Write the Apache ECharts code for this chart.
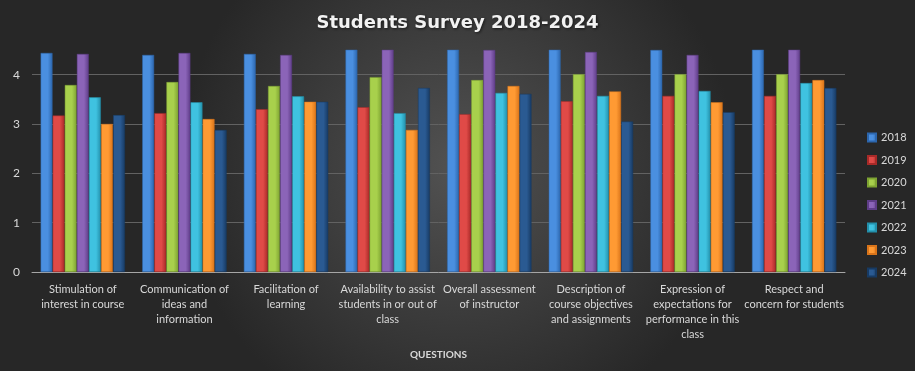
<!DOCTYPE html>
<html><head><meta charset="utf-8">
<script src="https://cdn.jsdelivr.net/npm/echarts@6/dist/echarts.min.js"></script>
<style>html,body{margin:0;padding:0;background:#333;}#c{width:915px;height:371px;}</style>
</head><body><div id="c"></div>
<script>
const categories = [
  "Stimulation of\ninterest in course",
  "Communication of\nideas and\ninformation",
  "Facilitation of\nlearning",
  "Availability to assist\nstudents in or out of\nclass",
  "Overall assessment\nof instructor",
  "Description of\ncourse objectives\nand assignments",
  "Expression of\nexpectations for\nperformance in this\nclass",
  "Respect and\nconcern for students"
];
const years = ["2018","2019","2020","2021","2022","2023","2024"];
const s2018 = [4.44, 4.40, 4.42, 4.60, 4.60, 4.60, 4.50, 4.60];
const s2019 = [3.17, 3.22, 3.30, 3.34, 3.20, 3.46, 3.57, 3.57];
const s2020 = [3.79, 3.85, 3.77, 3.95, 3.89, 4.01, 4.01, 4.01];
const s2021 = [4.42, 4.44, 4.40, 4.60, 4.50, 4.46, 4.40, 4.60];
const s2022 = [3.54, 3.44, 3.56, 3.22, 3.63, 3.57, 3.67, 3.83];
const s2023 = [3.00, 3.10, 3.45, 2.88, 3.77, 3.66, 3.44, 3.89];
const s2024 = [3.18, 2.88, 3.45, 3.73, 3.61, 3.05, 3.24, 3.73];
const seriesValues = [s2018, s2019, s2020, s2021, s2022, s2023, s2024];
const yTicks = [0, 1, 2, 3, 4];

const colors = [
  ["#4a8fe0", "#2c66ad"],
  ["#e04a47", "#a82a28"],
  ["#a8d04c", "#7ea332"],
  ["#8b64b8", "#5f3d88"],
  ["#3fc2e0", "#2390ab"],
  ["#ff9a33", "#d9741a"],
  ["#2a5a92", "#173a63"]
];

const chart = echarts.init(document.getElementById('c'));
const font = 'Lato, "Liberation Sans", sans-serif';
chart.setOption({
  animation: false,
  backgroundColor: {
    type: 'radial', x: 0.5, y: 0.45, r: 0.75,
    colorStops: [{offset: 0, color: '#525252'}, {offset: 1, color: '#272727'}]
  },
  title: {
    text: 'Students Survey 2018-2024', left: 'center', top: 9,
    textStyle: {color: '#f2f2f2', fontSize: 18, fontWeight: 'bold', fontFamily: '"DejaVu Sans", sans-serif',
      textShadowColor: 'rgba(0,0,0,0.6)', textShadowBlur: 3, textShadowOffsetX: 1, textShadowOffsetY: 1}
  },
  legend: {
    orient: 'vertical', left: 862, top: 127,
    itemWidth: 8, itemHeight: 8, itemGap: 11.5,
    icon: 'rect',
    textStyle: {color: '#d9d9d9', fontSize: 11, fontFamily: font},
    data: years
  },
  grid: {left: 32, right: 70, top: 50, bottom: 99, containLabel: false},
  xAxis: {
    type: 'category', data: categories,
    name: 'QUESTIONS', nameLocation: 'middle', nameGap: 78,
    nameTextStyle: {color: '#d9d9d9', fontSize: 10, fontWeight: 'bold', fontFamily: font},
    axisLine: {lineStyle: {color: '#a6a6a6', width: 1}},
    axisTick: {show: false},
    axisLabel: {color: '#d9d9d9', fontSize: 11, fontFamily: font, interval: 0, lineHeight: 15, margin: 10}
  },
  yAxis: {
    type: 'value', min: 0, max: 4.5, interval: 0.5,
    axisLine: {show: false}, axisTick: {show: false},
    axisLabel: {
      color: '#d9d9d9', fontSize: 12, fontFamily: font, margin: 12,
      formatter: v => (yTicks.indexOf(v) >= 0 ? String(v) : '')
    },
    splitLine: {lineStyle: {color: ['#626262', 'rgba(0,0,0,0)'], width: 1}}
  },
  series: years.map((y, i) => ({
    name: y, type: 'bar', data: seriesValues[i],
    barGap: '2%', barCategoryGap: '17%',
    itemStyle: {
      color: {
        type: 'linear', x: 0, y: 0, x2: 1, y2: 0,
        colorStops: [{offset: 0, color: colors[i][0]}, {offset: 0.6, color: colors[i][0]}, {offset: 1, color: colors[i][1]}]
      },
      borderColor: colors[i][1], borderWidth: 0.5
    }
  }))
});
</script></body></html>
